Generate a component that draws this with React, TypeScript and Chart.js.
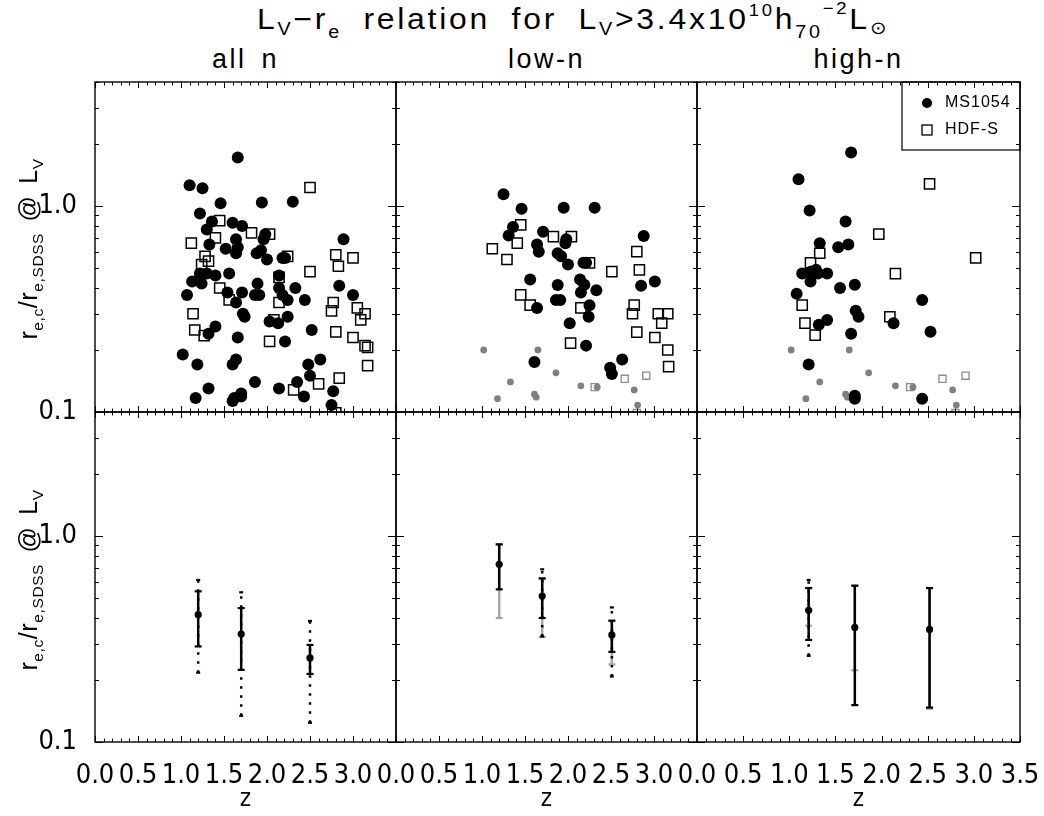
import React, { useEffect, useRef } from 'react';
import { Chart, registerables } from 'chart.js';

Chart.register(...registerables);

type Pt = [number, number];
type Rng = [number, number] | null;

// ---------- data: top row (z, r_e,c / r_e,SDSS) ----------
const allN_MS1054: Pt[] = [
  [1.66, 1.72], [1.10, 1.26], [1.25, 1.22], [1.46, 1.03], [1.94, 1.04], [2.30, 1.05], [1.22, 0.92], [1.36, 0.84],
  [1.60, 0.83], [1.71, 0.80], [1.30, 0.77], [1.98, 0.73], [1.96, 0.69], [1.64, 0.69], [2.89, 0.69], [1.33, 0.65],
  [1.66, 0.63], [1.52, 0.62], [1.64, 0.59], [1.88, 0.59], [1.93, 0.61], [2.00, 0.55], [2.18, 0.56], [2.21, 0.56],
  [1.22, 0.47], [1.30, 0.47], [1.40, 0.46], [1.56, 0.47], [2.14, 0.46], [1.13, 0.43], [1.24, 0.42], [1.89, 0.42],
  [2.84, 0.41], [2.14, 0.40], [2.33, 0.40], [1.07, 0.37], [1.54, 0.38], [1.71, 0.38], [1.86, 0.37], [1.91, 0.37],
  [2.18, 0.37], [2.24, 0.35], [2.44, 0.35], [3.00, 0.37], [1.64, 0.34], [1.72, 0.30], [1.74, 0.29], [2.03, 0.275],
  [2.13, 0.27], [2.24, 0.29], [1.40, 0.26], [1.32, 0.24], [2.52, 0.25], [1.66, 0.23], [2.21, 0.22], [1.02, 0.19],
  [1.64, 0.18], [1.60, 0.17], [2.62, 0.18], [1.19, 0.17], [2.48, 0.17], [2.50, 0.15], [1.86, 0.14], [1.32, 0.13],
  [2.14, 0.13], [2.35, 0.14], [2.77, 0.126], [1.17, 0.117], [1.70, 0.123], [1.70, 0.119], [1.62, 0.117],
  [1.60, 0.113], [2.43, 0.119], [2.75, 0.108],
];
const allN_HDFS: Pt[] = [
  [2.50, 1.23], [1.45, 0.85], [1.40, 0.70], [1.12, 0.66], [1.82, 0.74], [2.03, 0.73], [1.28, 0.57], [1.24, 0.52],
  [1.32, 0.54], [2.24, 0.57], [2.80, 0.58], [2.83, 0.51], [3.00, 0.56], [2.14, 0.45], [2.50, 0.48], [1.45, 0.40],
  [1.56, 0.35], [2.14, 0.34], [2.77, 0.34], [2.75, 0.31], [3.05, 0.32], [3.14, 0.30], [3.09, 0.28], [1.14, 0.30],
  [1.16, 0.25], [1.27, 0.235], [2.08, 0.28], [2.80, 0.245], [2.03, 0.22], [3.00, 0.23], [3.14, 0.21],
  [3.17, 0.206], [3.17, 0.168], [2.84, 0.146], [2.60, 0.137], [2.31, 0.128], [2.80, 0.099],
];
const lowN_MS1054: Pt[] = [
  [1.25, 1.14], [1.46, 0.97], [1.95, 0.98], [2.31, 0.98], [1.36, 0.79], [1.71, 0.75], [1.31, 0.72], [1.98, 0.69],
  [1.97, 0.66], [1.64, 0.65], [1.66, 0.60], [1.88, 0.59], [1.92, 0.57], [2.88, 0.715], [2.00, 0.52], [2.18, 0.53],
  [2.21, 0.53], [1.56, 0.44], [2.14, 0.44], [2.19, 0.415], [1.88, 0.414], [3.01, 0.43], [2.85, 0.41], [2.15, 0.38],
  [2.33, 0.39], [1.86, 0.35], [1.91, 0.35], [1.64, 0.32], [2.25, 0.33], [2.24, 0.29], [2.02, 0.27], [2.21, 0.21],
  [1.61, 0.175], [2.63, 0.18], [2.49, 0.164], [2.51, 0.153],
];
const lowN_HDFS: Pt[] = [
  [1.45, 0.81], [1.12, 0.62], [1.41, 0.66], [1.29, 0.55], [1.83, 0.71], [2.04, 0.71], [2.25, 0.53], [2.51, 0.48],
  [2.80, 0.60], [2.83, 0.49], [1.45, 0.37], [1.56, 0.33], [2.15, 0.32], [2.77, 0.33], [2.75, 0.30], [3.05, 0.30],
  [3.16, 0.30], [3.09, 0.27], [2.80, 0.244], [3.01, 0.23], [3.16, 0.20], [3.17, 0.166], [2.03, 0.216],
];
const highN_MS1054: Pt[] = [
  [1.67, 1.82], [1.10, 1.35], [1.22, 0.95], [1.61, 0.84], [1.33, 0.66], [1.53, 0.63], [1.64, 0.65], [1.14, 0.47],
  [1.23, 0.48], [1.29, 0.49], [1.31, 0.47], [1.41, 0.47], [1.23, 0.43], [1.55, 0.40], [1.71, 0.415], [1.08, 0.375],
  [2.44, 0.35], [1.72, 0.31], [1.75, 0.29], [1.41, 0.28], [1.32, 0.265], [2.13, 0.27], [2.53, 0.245], [1.67, 0.24],
  [1.21, 0.17], [1.71, 0.12], [1.71, 0.116], [2.44, 0.116],
];
const highN_HDFS: Pt[] = [
  [2.52, 1.28], [1.97, 0.73], [3.02, 0.56], [1.33, 0.59], [1.23, 0.53], [2.15, 0.47], [1.14, 0.33], [2.09, 0.29],
  [1.17, 0.27], [1.28, 0.236],
];
// grey (excluded) objects, shown in low-n and high-n panels
const excluded_MS1054: Pt[] = [
  [1.02, 0.20], [1.65, 0.20], [1.86, 0.155], [1.33, 0.14], [2.15, 0.134], [2.34, 0.132], [2.77, 0.128],
  [1.61, 0.122], [1.63, 0.118], [1.18, 0.116], [2.81, 0.108],
];
const excluded_HDFS: Pt[] = [[2.66, 0.145], [2.91, 0.15], [2.31, 0.132], [2.80, 0.099]];

// ---------- data: bottom row (binned medians with error ranges) ----------
const allN_binZ = [1.20, 1.70, 2.50];
const allN_median = [0.415, 0.334, 0.256];
const allN_solid: Rng[] = [[0.291, 0.539], [0.224, 0.447], [0.214, 0.296]];
const allN_dotted: Rng[] = [[0.217, 0.612], [0.134, 0.533], [0.124, 0.387]];
const allN_grey: Rng[] = [null, null, null];

const lowN_binZ = [1.20, 1.70, 2.51];
const lowN_median = [0.729, 0.511, 0.331];
const lowN_solid: Rng[] = [[0.551, 0.911], [0.40, 0.623], [0.274, 0.388]];
const lowN_dotted: Rng[] = [null, [0.325, 0.689], [0.208, 0.45]];
const lowN_grey: Rng[] = [[0.40, 0.91], [0.324, 0.62], [0.238, 0.388]];

const highN_binZ = [1.21, 1.71, 2.52];
const highN_median = [0.436, 0.36, 0.352];
const highN_solid: Rng[] = [[0.313, 0.559], [0.151, 0.574], [0.147, 0.559]];
const highN_dotted: Rng[] = [[0.262, 0.612], null, null];
const highN_grey: Rng[] = [[0.367, 0.559], [0.223, 0.574], [0.145, 0.559]];

// ---------- labels ----------
const xTickValues = [0, 0.5, 1, 1.5, 2, 2.5, 3, 3.5];
const xTickLabels = ['0.0', '0.5', '1.0', '1.5', '2.0', '2.5', '3.0', '3.5'];
const yTickValues = [0.1, 1];
const yTickLabels = ['0.1', '1.0'];
const panelTitles = ['all n', 'low-n', 'high-n'];
const legendLabels = ['MS1054', 'HDF-S'];
const xAxisTitle = 'z';

// ---------- layout ----------
const FONT = "'Liberation Sans Narrow', 'DejaVu Sans Condensed', 'Liberation Sans', sans-serif";
const TFONT = "'Liberation Sans', Arial, sans-serif";
const COLS = [[95, 396], [396, 697], [697, 1020]];
const ROWS = [[82, 412], [412, 742]];
const YW = 90;
const PADT = 40;
const PADR = 40;

const framePlugin = {
  id: 'frame',
  afterDraw(chart: any, _args: any, opts: any) {
    const { ctx, chartArea: a } = chart;
    const xs = chart.scales.x;
    const ys = chart.scales.y;
    ctx.save();
    ctx.strokeStyle = '#000';
    ctx.lineWidth = 1;
    ctx.beginPath();
    for (let k = 0; k <= 35; k++) {
      const px = Math.round(xs.getPixelForValue(k / 10)) + 0.5;
      const len = k % 5 === 0 ? 6 : 3.5;
      ctx.moveTo(px, a.bottom);
      ctx.lineTo(px, a.bottom - len);
      ctx.moveTo(px, a.top);
      ctx.lineTo(px, a.top + len);
    }
    for (let e = -1; e <= 0; e++) {
      for (let s = 1; s <= 9; s++) {
        const v = s * Math.pow(10, e);
        if (v > ys.max + 1e-6) continue;
        const py = Math.round(ys.getPixelForValue(v)) + 0.5;
        const len = s === 1 ? 8 : 4;
        ctx.moveTo(a.left, py);
        ctx.lineTo(a.left + len, py);
        ctx.moveTo(a.right, py);
        ctx.lineTo(a.right - len, py);
      }
    }
    ctx.stroke();
    ctx.lineWidth = 1.4;
    ctx.strokeRect(a.left, a.top, a.right - a.left, a.bottom - a.top);

    if (opts && opts.legend) {
      const bl = a.right - 118;
      const bt = a.top;
      ctx.lineWidth = 1.2;
      ctx.strokeRect(bl, bt, a.right - bl, 68);
      ctx.fillStyle = '#000';
      ctx.beginPath();
      ctx.arc(bl + 25, bt + 21, 5, 0, Math.PI * 2);
      ctx.fill();
      ctx.lineWidth = 1.3;
      ctx.strokeRect(bl + 20, bt + 43, 10, 10);
      ctx.font = `16px ${TFONT}`;
      (ctx as any).letterSpacing = '1px';
      ctx.textBaseline = 'middle';
      ctx.textAlign = 'left';
      ctx.fillText(legendLabels[0], bl + 43, bt + 21);
      ctx.fillText(legendLabels[1], bl + 43, bt + 48);
    }
    ctx.restore();
  },
};

function pts(list: Pt[]) {
  return list.map(([x, y]) => ({ x, y }));
}

function topDatasets(circles: Pt[], squares: Pt[], withExcluded: boolean) {
  const sets: any[] = [
    {
      data: pts(squares), order: 0, pointStyle: 'rect', pointRadius: 7.2,
      pointBackgroundColor: 'rgba(0,0,0,0)', pointBorderColor: '#000', pointBorderWidth: 1.5, clip: 0,
    },
    {
      data: pts(circles), order: 1, pointStyle: 'circle', pointRadius: 6,
      pointBackgroundColor: '#000', pointBorderWidth: 0, clip: 0,
    },
  ];
  if (withExcluded) {
    sets.push({
      data: pts(excluded_MS1054), order: 2, pointStyle: 'circle', pointRadius: 3.4,
      pointBackgroundColor: '#808080', pointBorderWidth: 0, clip: 0,
    });
    sets.push({
      data: pts(excluded_HDFS), order: 2, pointStyle: 'rect', pointRadius: 5,
      pointBackgroundColor: 'rgba(0,0,0,0)', pointBorderColor: '#8c8c8c', pointBorderWidth: 1.3, clip: 0,
    });
  }
  return sets;
}

function barSet(z: number, r: Rng, kind: 'solid' | 'dotted' | 'grey') {
  if (!r) return null;
  const color = kind === 'grey' ? '#a6a6a6' : '#000';
  return {
    data: [{ x: z, y: r[0] }, { x: z, y: r[1] }],
    showLine: true,
    order: kind === 'solid' ? 1 : kind === 'dotted' ? 2 : 3,
    borderColor: color,
    borderWidth: 2.5,
    borderDash: kind === 'dotted' ? [2.5, 6.5] : [],
    borderCapStyle: 'butt',
    pointStyle: 'line',
    pointRadius: kind === 'dotted' ? 2 : 3.5,
    pointBorderColor: color,
    pointBorderWidth: 2.2,
    clip: 0,
  };
}

function bottomDatasets(z: number[], med: number[], solid: Rng[], dotted: Rng[], grey: Rng[]) {
  const sets: any[] = [];
  z.forEach((zz, i) => {
    sets.push({
      data: [{ x: zz, y: med[i] }], order: 0, pointStyle: 'circle', pointRadius: 3.6,
      pointBackgroundColor: '#000', pointBorderWidth: 0, clip: 0,
    });
    [barSet(zz, solid[i], 'solid'), barSet(zz, dotted[i], 'dotted'), barSet(zz, grey[i], 'grey')].forEach((s) => {
      if (s) sets.push(s);
    });
  });
  return sets;
}

function Panel({ col, row, datasets, legend }: { col: number; row: number; datasets: any[]; legend?: boolean }) {
  const ref = useRef<HTMLCanvasElement>(null);
  const [L, R] = COLS[col];
  const [T, B] = ROWS[row];
  const XH = row === 1 ? 816 - B : 40;
  const w = YW + (R - L) + PADR;
  const h = PADT + (B - T) + XH;
  const showX = row === 1;
  const showY = col === 0;
  const lastCol = col === 2;

  useEffect(() => {
    const chart = new Chart(ref.current as HTMLCanvasElement, {
      type: 'scatter',
      data: { datasets },
      plugins: [framePlugin as any],
      options: {
        animation: false,
        responsive: false,
        maintainAspectRatio: false,
        events: [],
        layout: { padding: { left: 0, right: PADR, top: PADT, bottom: 0 } },
        plugins: {
          legend: { display: false },
          tooltip: { enabled: false },
          frame: { legend: !!legend },
        } as any,
        scales: {
          x: {
            type: 'linear',
            min: 0,
            max: 3.5,
            afterBuildTicks: (s: any) => {
              s.ticks = xTickValues.map((v) => ({ value: v }));
            },
            afterFit: (s: any) => {
              s.height = XH;
            },
            grid: { display: false, drawTicks: false },
            border: { display: false },
            ticks: {
              display: showX,
              autoSkip: false,
              maxRotation: 0,
              padding: 18,
              color: '#000',
              font: { family: FONT, size: 27 },
              callback: (v: any) => {
                const i = xTickValues.findIndex((t) => Math.abs(t - Number(v)) < 1e-9);
                if (i < 0) return '';
                if (i === xTickValues.length - 1 && !lastCol) return '';
                return xTickLabels[i];
              },
            },
            title: {
              display: showX,
              text: xAxisTitle,
              color: '#000',
              font: { family: FONT, size: 24 },
              padding: { top: 0, bottom: 2 },
            },
          },
          y: {
            type: 'logarithmic',
            min: 0.1,
            max: 4.0,
            afterBuildTicks: (s: any) => {
              s.ticks = yTickValues.map((v) => ({ value: v }));
            },
            afterFit: (s: any) => {
              s.width = YW;
            },
            grid: { display: false, drawTicks: false },
            border: { display: false },
            ticks: {
              display: showY,
              autoSkip: false,
              padding: 18,
              color: '#000',
              font: { family: FONT, size: 27 },
              callback: (v: any) => {
                const i = yTickValues.findIndex((t) => Math.abs(t - Number(v)) < 1e-9);
                return i < 0 ? '' : yTickLabels[i];
              },
            },
          },
        },
      } as any,
    });
    return () => chart.destroy();
  }, []);

  return (
    <canvas
      ref={ref}
      width={w}
      height={h}
      style={{ position: 'absolute', left: L - YW, top: T - PADT, width: w, height: h }}
    />
  );
}

const Sub = ({ children, drop = '-0.5em' }: { children: React.ReactNode; drop?: string }) => (
  <span style={{ fontSize: '0.62em', verticalAlign: drop, lineHeight: 0 }}>{children}</span>
);
const Sup = ({ children, rise = '0.75em' }: { children: React.ReactNode; rise?: string }) => (
  <span style={{ fontSize: '0.58em', verticalAlign: rise, lineHeight: 0 }}>{children}</span>
);

function YTitle({ cy }: { cy: number }) {
  return (
    <div
      style={{
        position: 'absolute', left: 28, top: cy, transform: 'translate(-50%, -50%) rotate(-90deg)',
        whiteSpace: 'nowrap', fontFamily: TFONT, fontSize: 25, lineHeight: '30px', color: '#000',
        letterSpacing: '0.6px', wordSpacing: '4px',
      }}
    >
      r<Sub drop="-0.4em">e,c</Sub>/r<Sub drop="-0.4em">e,SDSS</Sub> @ L<Sub drop="-0.4em">V</Sub>
    </div>
  );
}

export default function App() {
  const centers = COLS.map(([l, r]) => (l + r) / 2);
  return (
    <div style={{ position: 'absolute', left: 0, top: 0, width: 1044, height: 816, background: '#fff', overflow: 'hidden' }}>
      <div
        style={{
          position: 'absolute', left: 573, top: 2, transform: 'translateX(-50%) scaleX(1.1)', whiteSpace: 'nowrap',
          fontFamily: TFONT, fontSize: 29, lineHeight: '34px', color: '#000', letterSpacing: '2.5px', wordSpacing: '9px',
        }}
      >
        L<Sub drop="-0.35em">V</Sub>−r<Sub>e</Sub> relation for L<Sub drop="-0.35em">V</Sub>&gt;3.4x10
        <Sup>10</Sup>h<Sub>70</Sub><Sup rise="0.9em">−2</Sup>L<Sub drop="-0.3em">⊙</Sub>
      </div>
      {panelTitles.map((t, i) => (
        <div
          key={t}
          style={{
            position: 'absolute', left: centers[i], top: 44, transform: 'translateX(-50%)', whiteSpace: 'nowrap',
            fontFamily: TFONT, fontSize: 27, lineHeight: '30px', color: '#000', letterSpacing: '2.5px', wordSpacing: '5px',
          }}
        >
          {t}
        </div>
      ))}
      <Panel col={0} row={0} datasets={topDatasets(allN_MS1054, allN_HDFS, false)} />
      <Panel col={1} row={0} datasets={topDatasets(lowN_MS1054, lowN_HDFS, true)} />
      <Panel col={2} row={0} datasets={topDatasets(highN_MS1054, highN_HDFS, true)} legend />
      <Panel col={0} row={1} datasets={bottomDatasets(allN_binZ, allN_median, allN_solid, allN_dotted, allN_grey)} />
      <Panel col={1} row={1} datasets={bottomDatasets(lowN_binZ, lowN_median, lowN_solid, lowN_dotted, lowN_grey)} />
      <Panel col={2} row={1} datasets={bottomDatasets(highN_binZ, highN_median, highN_solid, highN_dotted, highN_grey)} />
      <YTitle cy={249} />
      <YTitle cy={580} />
    </div>
  );
}
